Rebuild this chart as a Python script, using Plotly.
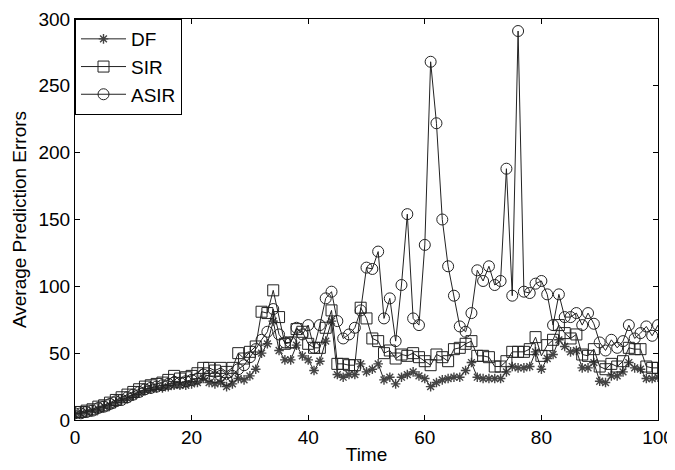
import plotly.graph_objects as go

# values, one per time step 0..100
time = list(range(101))

df_err = [4, 5, 6, 7, 8, 10, 11, 13, 15, 16,
          18, 20, 22, 23, 24, 24, 25, 26, 26, 26,
          27, 28, 31, 28, 27, 28, 25, 27, 31, 30,
          33, 38, 50, 57, 74, 52, 45, 45, 56, 48,
          45, 37, 44, 59, 74, 34, 32, 34, 34, 42,
          36, 38, 42, 30, 32, 27, 32, 34, 36, 33,
          31, 25, 28, 30, 31, 32, 32, 37, 43, 32,
          31, 31, 31, 31, 36, 40, 39, 39, 40, 51,
          38, 46, 49, 60, 55, 51, 52, 39, 39, 43,
          29, 28, 33, 33, 36, 43, 39, 38, 31, 31,
          32]

sir_err = [6, 6, 7, 8, 10, 11, 13, 15, 17, 19,
           21, 23, 25, 26, 27, 28, 30, 33, 31, 32,
           33, 35, 39, 39, 37, 39, 36, 39, 50, 46,
           51, 55, 81, 80, 97, 77, 57, 58, 68, 66,
           57, 54, 54, 69, 82, 42, 42, 41, 41, 84,
           76, 61, 59, 50, 52, 46, 49, 48, 50, 47,
           44, 41, 49, 47, 44, 53, 54, 57, 59, 48,
           48, 47, 40, 40, 44, 51, 51, 51, 53, 62,
           48, 56, 60, 71, 65, 61, 64, 49, 48, 53,
           40, 38, 42, 40, 44, 54, 53, 53, 40, 39,
           39]

asir_err = [5, 5, 6, 7, 9, 10, 12, 14, 15, 17,
            19, 21, 23, 24, 25, 26, 27, 28, 28, 29,
            30, 31, 34, 33, 32, 33, 30, 33, 38, 41,
            47, 53, 60, 66, 83, 64, 58, 58, 69, 64,
            71, 54, 71, 91, 96, 74, 61, 64, 69, 82,
            114, 113, 126, 76, 91, 59, 101, 154, 76, 71,
            131, 268, 222, 150, 115, 93, 70, 66, 80, 112,
            104, 115, 101, 104, 188, 93, 291, 96, 95, 102,
            104, 94, 71, 94, 77, 77, 80, 71, 80, 72,
            58, 52, 60, 54, 59, 71, 61, 65, 70, 63,
            71]

series = [
    ("DF", df_err, dict(symbol="asterisk-open", size=8, color="#444",
                        line=dict(width=1.4, color="#444"))),
    ("SIR", sir_err, dict(symbol="square-open", size=11, color="#222",
                          line=dict(width=1, color="#222"))),
    ("ASIR", asir_err, dict(symbol="circle-open", size=11, color="#222",
                            line=dict(width=1, color="#222"))),
]

fig = go.Figure()
for name, vals, marker in series:
    fig.add_trace(go.Scatter(
        x=time, y=vals, mode="lines+markers", name=name,
        line=dict(color="#222", width=1),
        marker=marker,
    ))

axis_style = dict(
    showline=True, linecolor="black", linewidth=1, mirror="ticks",
    ticks="inside", ticklen=5, tickcolor="black",
    showgrid=False, zeroline=False, automargin=False,
    ticklabeloverflow="allow",
    tickfont=dict(size=19, color="black"),
)

# the page body adds an 8px offset, so the figure is a bit smaller than the window
fig.update_layout(
    width=667, height=462,
    margin=dict(l=67, r=17, t=11, b=50),
    paper_bgcolor="white", plot_bgcolor="white",
    font=dict(family="Liberation Sans, Arial, sans-serif", size=19, color="black"),
    showlegend=True,
    legend=dict(x=0, y=1, xanchor="left", yanchor="top",
                bordercolor="black", borderwidth=1, bgcolor="white",
                font=dict(size=19), tracegroupgap=0, itemwidth=45),
    xaxis=dict(range=[0, 100], dtick=20, title=dict(text="Time", standoff=0, font=dict(size=19)), **axis_style),
    yaxis=dict(range=[0, 300], dtick=50, title=dict(text="Average Prediction Errors", standoff=6, font=dict(size=19)), **axis_style),
)

fig.write_html("out.html")
